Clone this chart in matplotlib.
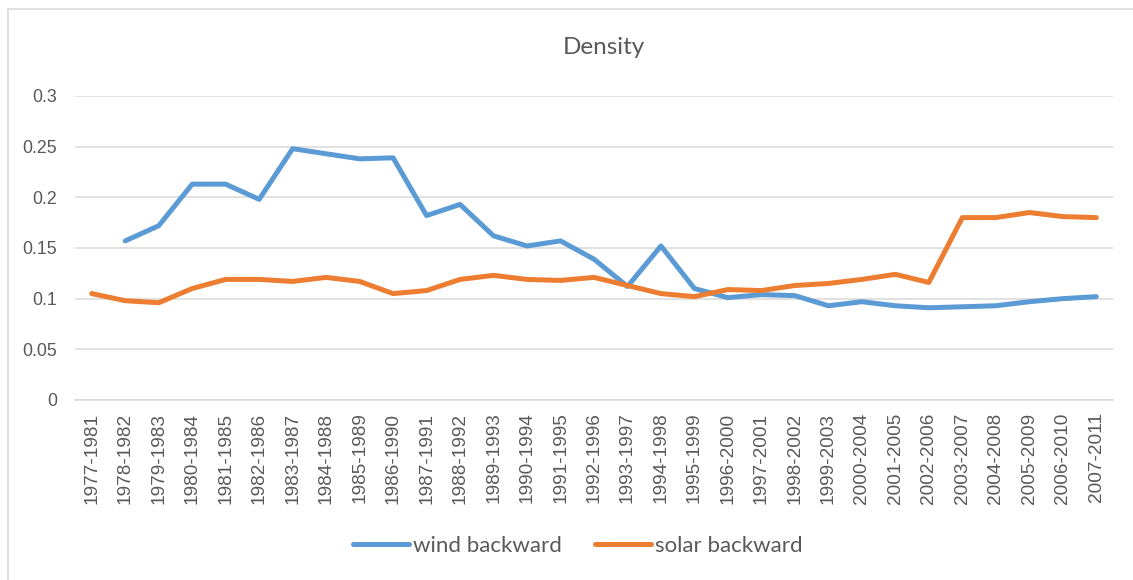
import matplotlib
matplotlib.use("Agg")
import matplotlib.pyplot as plt
from matplotlib.lines import Line2D
import numpy as np

categories = [f"{y}-{y+4}" for y in range(1977, 2008)]
wind = [np.nan, 0.157, 0.172, 0.213, 0.213, 0.198, 0.248, 0.243, 0.238, 0.239,
        0.182, 0.193, 0.162, 0.152, 0.157, 0.139, 0.112, 0.152, 0.110, 0.101,
        0.104, 0.103, 0.093, 0.097, 0.093, 0.091, 0.092, 0.093, 0.097, 0.100, 0.102]
solar = [0.105, 0.098, 0.096, 0.110, 0.119, 0.119, 0.117, 0.121, 0.117, 0.105,
         0.108, 0.119, 0.123, 0.119, 0.118, 0.121, 0.113, 0.105, 0.102, 0.109,
         0.108, 0.113, 0.115, 0.119, 0.124, 0.116, 0.180, 0.180, 0.185, 0.181, 0.180]
yticks = [0, 0.05, 0.1, 0.15, 0.2, 0.25, 0.3]
ytick_labels = ["0", "0.05", "0.1", "0.15", "0.2", "0.25", "0.3"]

W, H = 1133, 580
fig = plt.figure(figsize=(W/100, H/100), dpi=100)
ax = fig.add_axes([75/W, 1 - 400/H, (1113-75)/W, (400-96)/H])

x = np.arange(len(categories))
blue = "#5B9BD5"
orange = "#ED7D31"
ax.plot(x, wind, color=blue, lw=3.6, solid_capstyle="round", solid_joinstyle="round", label="wind backward", zorder=3)
ax.plot(x, solar, color=orange, lw=3.6, solid_capstyle="round", solid_joinstyle="round", label="solar backward", zorder=3)

ax.set_xlim(-0.5, len(categories) - 0.5)
ax.set_ylim(0, 0.3)
ax.set_yticks(yticks)
ax.set_yticklabels(ytick_labels)
ax.set_xticks(x)
ax.set_xticklabels(categories, rotation=90)
ax.grid(axis="y", color="#D9D9D9", lw=1.1)
ax.set_axisbelow(True)
for s in ["top", "right", "left"]:
    ax.spines[s].set_visible(False)
ax.spines["bottom"].set_color("#D9D9D9")
ax.spines["bottom"].set_linewidth(1.1)
ax.tick_params(axis="both", length=0, colors="#595959")
ax.tick_params(axis="x", pad=9, labelsize=13.7)
ax.tick_params(axis="y", pad=13, labelsize=12.8)
for lab in ax.get_xticklabels() + ax.get_yticklabels():
    lab.set_fontfamily(["Liberation Sans", "DejaVu Sans"])

fig.text(604/W, 1 - 47/H, "Density", ha="center", va="center", fontsize=17.5,
         color="#595959", fontfamily=["Lato", "DejaVu Sans"])

handles = [Line2D([], [], color=blue, lw=3.6, solid_capstyle="round"),
           Line2D([], [], color=orange, lw=3.6, solid_capstyle="round")]
leg = fig.legend(handles, ["wind backward", "solar backward"], loc="center",
                 bbox_to_anchor=(578/W, 1 - 546/H), ncol=2, frameon=False,
                 handlelength=2.5, handletextpad=0.2, columnspacing=1.5,
                 prop={"family": ["Lato", "DejaVu Sans"], "size": 16})
for t in leg.get_texts():
    t.set_color("#595959")

# chart frame
fig.add_artist(Line2D([8/W, 1], [1 - 8.5/H, 1 - 8.5/H], transform=fig.transFigure, color="#D9D9D9", lw=1.1))
fig.add_artist(Line2D([8/W, 8/W], [0, 1 - 8.5/H], transform=fig.transFigure, color="#D9D9D9", lw=1.1))

fig.savefig("out.png", dpi=100, facecolor="white")
